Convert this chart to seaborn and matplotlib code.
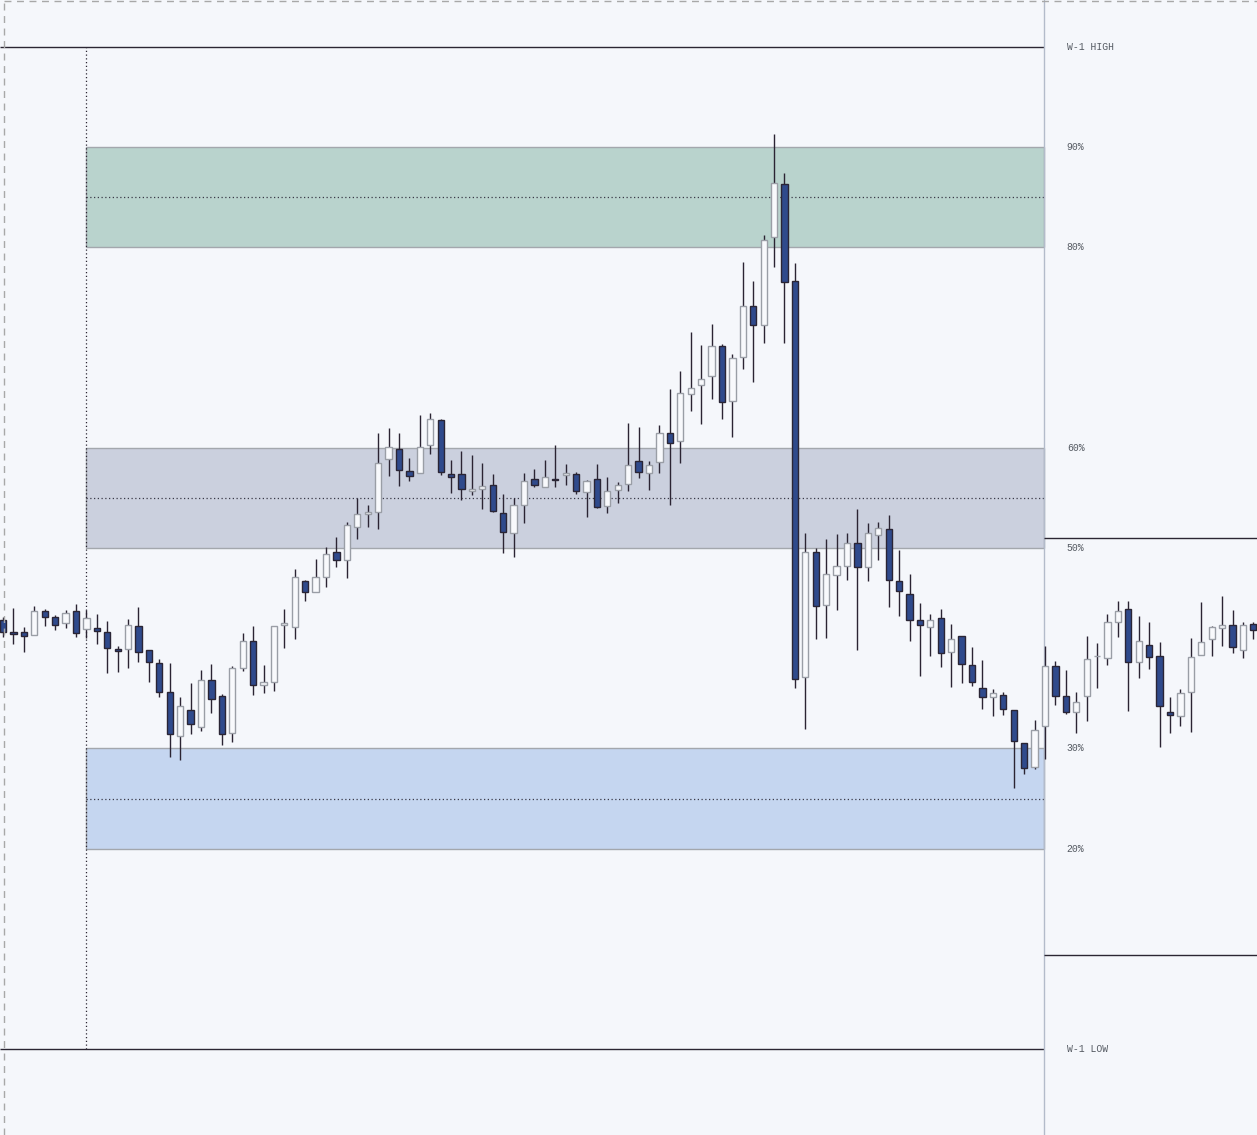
import numpy as np
import pandas as pd
import matplotlib
matplotlib.use('Agg')
import matplotlib.pyplot as plt
from matplotlib.patches import Rectangle
from matplotlib.lines import Line2D
import seaborn as sns

# prices expressed as position inside last week's range (0 = W-1 low, 100 = W-1 high)
opens = [42.8, 41.6, 41.6, 41.3, 43.7, 43.1, 42.5, 43.7, 41.9, 42.0,
         41.6, 39.9, 39.9, 42.2, 39.8, 38.5, 35.6, 31.2, 33.8, 32.1,
         36.8, 35.2, 31.5, 38.0, 40.7, 36.3, 36.6, 42.3, 42.1, 46.7,
         45.6, 47.1, 49.6, 48.8, 52.1, 53.4, 53.6, 58.9, 59.9, 57.7,
         57.5, 60.3, 62.8, 57.4, 57.4, 55.7, 55.9, 56.3, 53.5, 51.5,
         54.3, 56.9, 56.1, 56.9, 57.3, 57.4, 55.6, 56.9, 54.2, 55.8,
         56.4, 58.7, 57.5, 58.6, 61.5, 60.7, 65.4, 66.3, 67.2, 70.2,
         64.7, 69.1, 74.2, 72.3, 81.0, 86.3, 76.6, 37.1, 49.6, 44.3,
         47.3, 48.2, 50.5, 48.1, 51.3, 51.9, 46.7, 45.4, 42.8, 42.1,
         43.0, 39.6, 41.2, 38.3, 36.0, 35.1, 35.3, 33.8, 30.5, 28.1,
         32.2, 38.2, 35.2, 33.6, 35.2, 39.2, 39.0, 42.6, 43.9, 38.6,
         40.3, 39.2, 33.6, 33.2, 35.6, 39.3, 40.9, 42.0, 42.3, 39.8,
         42.4]
highs = [43.1, 44.0, 42.1, 44.2, 43.9, 43.3, 43.8, 44.4, 43.8, 43.4,
         42.7, 40.2, 42.9, 44.1, 39.8, 38.9, 38.5, 35.1, 36.5, 37.8,
         38.4, 35.4, 38.2, 41.5, 42.2, 38.3, 42.2, 43.9, 47.9, 46.8,
         48.9, 50.1, 51.1, 52.6, 55.0, 54.3, 61.5, 62.0, 61.5, 59.0,
         63.3, 63.5, 62.9, 58.8, 59.7, 59.3, 58.5, 57.4, 55.4, 55.0,
         57.5, 57.9, 58.8, 60.3, 58.4, 57.6, 56.8, 58.4, 57.1, 56.6,
         62.5, 62.1, 58.7, 62.3, 65.9, 67.7, 71.6, 70.3, 72.4, 70.4,
         69.4, 78.5, 76.6, 81.2, 91.3, 87.4, 78.4, 51.5, 50.0, 50.9,
         51.4, 51.5, 53.9, 52.5, 52.6, 53.3, 49.8, 47.4, 44.5, 43.4,
         43.9, 42.4, 41.2, 40.1, 38.8, 35.9, 35.6, 33.8, 30.5, 32.8,
         40.2, 38.7, 37.8, 35.6, 41.2, 40.5, 43.4, 44.7, 44.7, 43.2,
         42.6, 40.6, 35.1, 35.9, 41.0, 44.6, 42.2, 45.2, 43.8, 42.6,
         42.6]
lows = [41.1, 40.4, 39.6, 41.3, 42.2, 41.8, 42.0, 41.1, 41.0, 40.4,
        37.5, 37.6, 38.0, 38.6, 36.6, 35.1, 29.1, 28.8, 31.4, 31.7,
        33.5, 30.3, 30.6, 37.7, 35.3, 35.5, 35.7, 40.0, 40.9, 44.7,
        45.6, 46.1, 48.1, 47.0, 50.9, 52.1, 51.9, 57.2, 56.2, 56.7,
        57.5, 59.4, 57.3, 55.5, 54.8, 55.3, 53.9, 53.6, 49.5, 49.1,
        52.5, 56.1, 56.1, 56.1, 56.3, 55.4, 53.1, 54.0, 53.5, 54.5,
        55.7, 57.0, 55.8, 57.5, 54.3, 58.5, 63.7, 62.4, 64.9, 62.9,
        61.1, 67.9, 66.6, 70.5, 78.0, 70.5, 36.0, 31.9, 40.9, 41.0,
        43.8, 46.8, 39.8, 46.7, 48.8, 44.1, 43.2, 40.7, 37.2, 39.2,
        38.1, 36.1, 36.5, 36.2, 33.9, 33.2, 33.3, 26.0, 27.4, 27.9,
        28.9, 34.3, 33.4, 31.5, 32.7, 36.0, 38.3, 41.1, 33.7, 37.0,
        37.9, 30.1, 31.5, 32.2, 31.6, 39.3, 39.2, 40.2, 39.5, 39.0,
        40.9]
closes = [41.6, 41.4, 41.2, 43.7, 43.1, 42.3, 43.5, 41.5, 43.0, 41.7,
          40.0, 39.7, 42.3, 39.6, 38.6, 35.6, 31.4, 34.2, 32.4, 36.8,
          34.9, 31.4, 38.0, 40.7, 36.3, 36.6, 42.2, 42.5, 47.1, 45.6,
          47.1, 49.4, 48.8, 52.3, 53.4, 53.6, 58.5, 60.1, 57.8, 57.2,
          60.1, 62.9, 57.6, 57.1, 55.9, 55.9, 56.2, 53.7, 51.6, 54.3,
          56.7, 56.3, 57.1, 56.8, 57.5, 55.7, 56.7, 54.1, 55.7, 56.3,
          58.3, 57.6, 58.3, 61.5, 60.5, 65.5, 66.0, 66.9, 70.2, 64.6,
          69.0, 74.2, 72.3, 80.7, 86.4, 76.5, 36.9, 49.6, 44.2, 47.4,
          48.2, 50.5, 48.1, 51.5, 52.0, 46.8, 45.7, 42.8, 42.3, 42.8,
          39.5, 40.9, 38.4, 36.6, 35.1, 35.5, 33.9, 30.7, 28.0, 31.8,
          38.2, 35.2, 33.6, 34.6, 38.9, 39.2, 42.6, 43.7, 38.6, 40.7,
          39.1, 34.2, 33.3, 35.5, 39.1, 40.6, 42.1, 42.3, 40.1, 42.3,
          41.8]

zone_lo = [80, 50, 20]
zone_hi = [90, 60, 30]
zone_colors = ['#b9d3cd', '#cbd0de', '#c5d6f0']
level_pcts = [100, 90, 80, 60, 50, 30, 20, 0]
level_labels = ['W-1 HIGH', '90%', '80%', '60%', '50%', '30%', '20%', 'W-1 LOW']
week_start = 8        # candle where the previous week's box begins
scale_split = 99.9    # price-scale separator (in candle units)
label_x = 102.1
this_week = [51.0, 9.4]   # levels drawn in the right-hand panel

bg = '#f5f7fb'
sns.set_style('white', rc={'axes.facecolor': bg, 'figure.facecolor': bg})

df = pd.DataFrame({'o': opens, 'h': highs, 'l': lows, 'c': closes})
df['i'] = np.arange(len(df))
up = df['c'] >= df['o']

fig = plt.figure(figsize=(12.57, 11.35), dpi=100)
ax = fig.add_axes([0, 0, 1, 1])
x_left, x_right = -0.29, 120.35
ax.set_xlim(x_left, x_right)
ax.set_ylim(-8.58, 104.69)
ax.axis('off')

# zones
for lo, hi, col in zip(zone_lo, zone_hi, zone_colors):
    ax.add_patch(Rectangle((week_start, lo), scale_split - week_start, hi - lo,
                           facecolor=col, edgecolor='#a3a7ad', lw=1.0, zorder=1))
    ax.hlines((lo + hi) / 2, week_start, scale_split, colors='#3a3a48',
              linestyles=(0, (1, 2)), lw=0.9, zorder=1.5)

# W-1 high / low and the week start marker
ax.hlines([100, 0], x_left, scale_split, colors='#2b2633', lw=1.0, zorder=2)
ax.vlines(week_start, 0, 100, colors='#2b2633', linestyles=(0, (1, 2)), lw=0.9, zorder=2)
ax.axvline(scale_split, color='#b3bbca', lw=1.0, zorder=2)
ax.hlines(this_week, scale_split, x_right, colors='#2b2633', lw=1.0, zorder=2)

# candles
ax.vlines(df['i'], df['l'], df['h'], colors='#2b2433', lw=1.0, zorder=3)
ax.bar(df['i'][up], (df['c'] - df['o'])[up], bottom=df['o'][up], width=0.6,
       color='#f8f9fc', edgecolor='#9a9ea6', lw=1.0, zorder=4)
ax.bar(df['i'][~up], (df['o'] - df['c'])[~up], bottom=df['c'][~up], width=0.6,
       color='#2f4a8c', edgecolor='#2a2535', lw=1.0, zorder=4)

for pct, lab in zip(level_pcts, level_labels):
    ax.text(label_x, pct, lab, ha='left', va='center', fontsize=7,
            family='Liberation Mono', color='#555a62', zorder=5)

# dashed frame
fig.add_artist(Line2D([3.5 / 1257, 1], [1 - 0.6 / 1135] * 2, transform=fig.transFigure,
                      ls=(0, (5, 4)), color='#a8a8a8', lw=1.0))
fig.add_artist(Line2D([3.5 / 1257] * 2, [0, 1], transform=fig.transFigure,
                      ls=(0, (5, 4)), color='#a8a8a8', lw=1.0))

fig.savefig('out.png', dpi=100, facecolor=bg)
